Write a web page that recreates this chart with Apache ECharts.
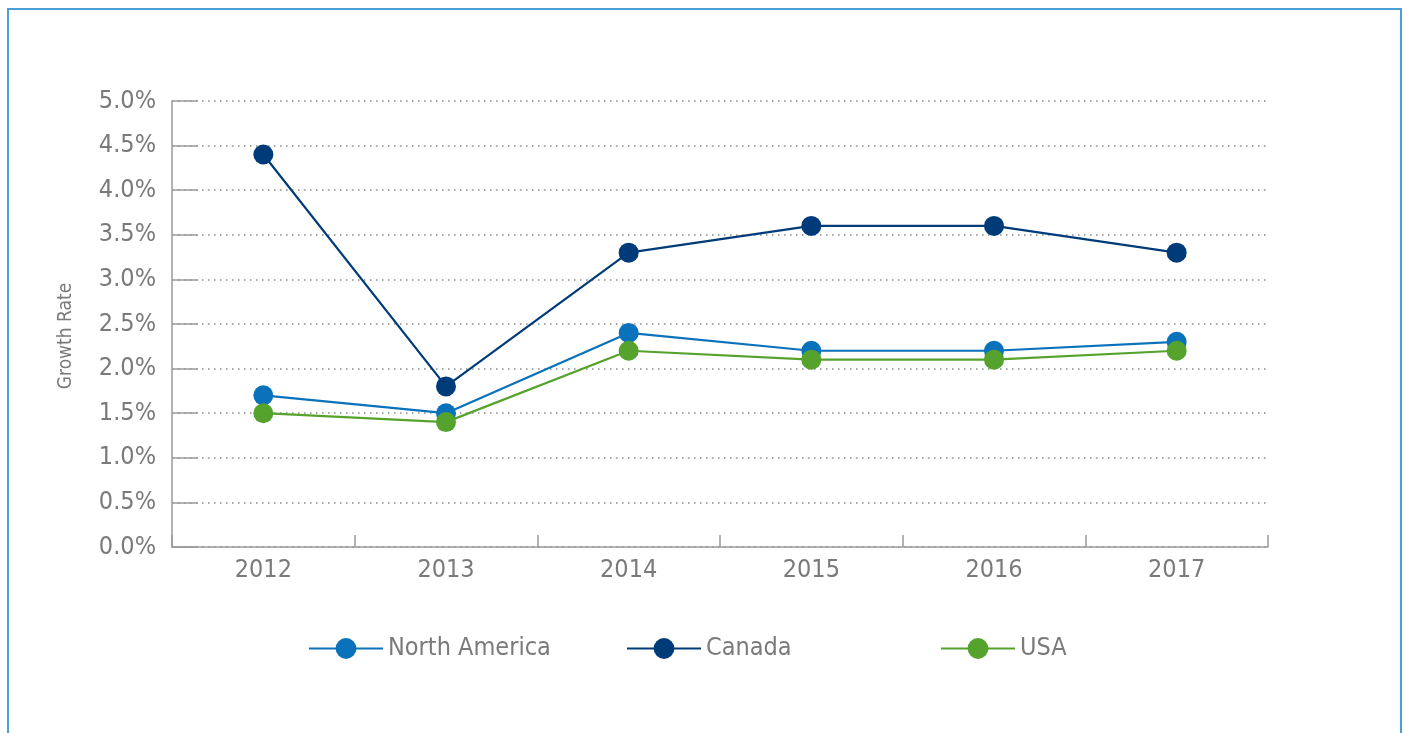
<!DOCTYPE html>
<html>
<head>
<meta charset="utf-8">
<script src="https://cdn.jsdelivr.net/npm/echarts@6/dist/echarts.min.js"></script>
<style>
  html, body { margin: 0; padding: 0; background: #fff; }
  #chart { width: 1408px; height: 733px; }
</style>
</head>
<body>
<div id="chart"></div>
<script>
// valeurs
var years = ['2012', '2013', '2014', '2015', '2016', '2017'];
var northAmerica = [1.7, 1.5, 2.4, 2.2, 2.2, 2.3];
var canada = [4.4, 1.8, 3.3, 3.6, 3.6, 3.3];
var usa = [1.5, 1.4, 2.2, 2.1, 2.1, 2.2];

var fontFamily = '"Liberation Sans Narrow", "DejaVu Sans Condensed", "Roboto", sans-serif';
var textColor = '#7a7a7a';
var axisGray = '#9a9a9a';

var chart = echarts.init(document.getElementById('chart'));

function lineSeries(name, data, color) {
    return {
        name: name,
        type: 'line',
        data: data,
        symbol: 'circle',
        symbolSize: 20,
        color: color,
        lineStyle: { width: 2.2, color: color },
        itemStyle: { color: color },
        emphasis: { disabled: true },
        animation: false
    };
}

// une légende par série, placée comme sur l'original
function legendAt(name, left) {
    return {
        data: [name],
        left: left,
        top: 631,
        itemWidth: 74,
        itemHeight: 26,
        itemGap: 10,
        textStyle: { fontFamily: fontFamily, fontSize: 25, color: textColor },
        selectedMode: false
    };
}

var option = {
    animation: false,
    graphic: [{
        type: 'rect',
        shape: { x: 8, y: 9, width: 1393, height: 800 },
        style: { fill: 'none', stroke: '#4a9fd5', lineWidth: 2 },
        silent: true
    }],
    grid: { left: 172, right: 140, top: 101, bottom: 186 },
    legend: [
        legendAt('North America', 303),
        legendAt('Canada', 621),
        legendAt('USA', 935)
    ],
    xAxis: {
        type: 'category',
        data: years,
        boundaryGap: true,
        axisLine: { lineStyle: { color: axisGray, width: 1.5 } },
        axisTick: { show: true, inside: true, length: 12, lineStyle: { color: axisGray, width: 1.5 } },
        axisLabel: { fontFamily: fontFamily, fontSize: 25, color: textColor, margin: 11 }
    },
    yAxis: {
        type: 'value',
        min: 0,
        max: 5,
        interval: 0.5,
        name: 'Growth Rate',
        nameLocation: 'middle',
        nameGap: 96,
        nameTextStyle: { fontFamily: fontFamily, fontSize: 19, color: textColor, padding: [0, 24, 0, 0] },
        axisLine: { show: true, lineStyle: { color: axisGray, width: 1.5 } },
        axisTick: { show: true, inside: true, length: 26, lineStyle: { color: axisGray, width: 1.5 } },
        axisLabel: {
            fontFamily: fontFamily, fontSize: 25, color: textColor, margin: 16,
            formatter: function (v) { return v.toFixed(1) + '%'; }
        },
        splitLine: { show: true, lineStyle: { color: '#8a8a8a', width: 1.5, type: [1.5, 4.5] } }
    },
    series: [
        lineSeries('North America', northAmerica, '#0a72ba'),
        lineSeries('Canada', canada, '#003b79'),
        lineSeries('USA', usa, '#55a22d')
    ]
};

option && chart.setOption(option);
</script>
</body>
</html>
